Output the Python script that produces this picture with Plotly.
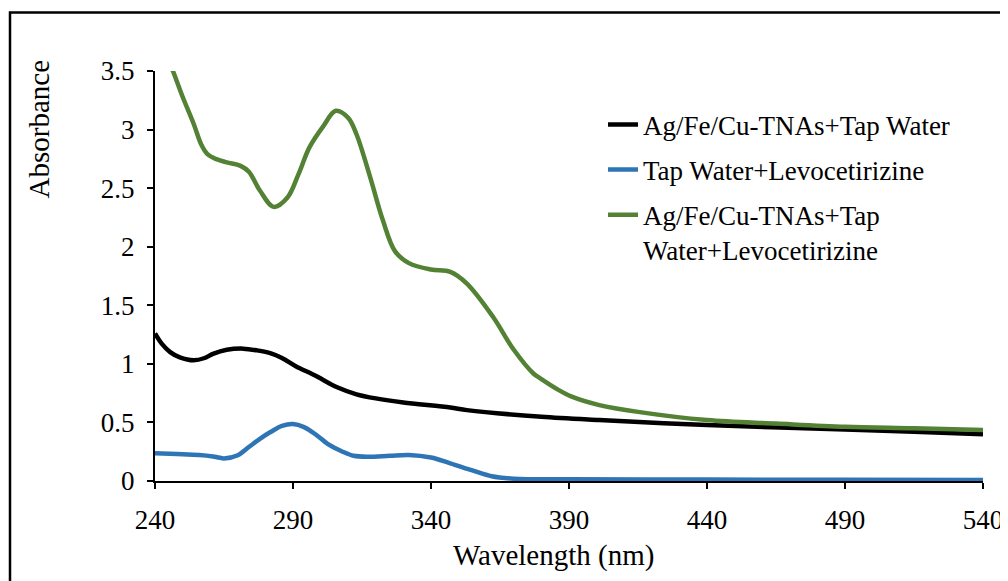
import plotly.graph_objects as go

# ---- data ----
green_x = [240, 243, 246.5, 250, 254, 256.8, 259, 262, 266, 271, 274, 278, 283, 288, 292, 296, 301,
           305.5, 310, 313, 318, 322.5, 327, 332, 340, 347, 353, 362.5, 370, 377, 380, 386, 391, 401,
           415, 440, 465, 490, 515, 540]
green_y = [3.85, 3.70, 3.50, 3.28, 3.05, 2.87, 2.79, 2.75, 2.72, 2.69, 2.64, 2.48, 2.34, 2.42, 2.62,
           2.85, 3.03, 3.16, 3.10, 2.96, 2.59, 2.23, 1.96, 1.86, 1.805, 1.785, 1.685, 1.40, 1.12, 0.92,
           0.87, 0.78, 0.72, 0.648, 0.59, 0.52, 0.49, 0.463, 0.45, 0.435]

black_x = [240, 242.5, 245.5, 249, 254, 258, 261, 266, 272, 277, 282, 286, 291, 298, 306, 313, 320, 330,
           347, 353, 380, 401, 440, 490, 515, 540]
black_y = [1.26, 1.17, 1.10, 1.055, 1.03, 1.05, 1.085, 1.12, 1.13, 1.115, 1.09, 1.05, 0.98, 0.90, 0.80,
           0.74, 0.705, 0.67, 0.628, 0.605, 0.548, 0.52, 0.477, 0.44, 0.42, 0.40]

blue_x = [240, 248, 256, 261, 265, 270, 274, 278, 282, 286, 290, 294, 298.5, 303, 308, 312, 317, 325,
          332, 340, 347, 355, 362, 370, 390, 440, 490, 540]
blue_y = [0.236, 0.23, 0.222, 0.21, 0.193, 0.22, 0.29, 0.36, 0.42, 0.47, 0.486, 0.46, 0.392, 0.31,
          0.25, 0.215, 0.207, 0.215, 0.222, 0.20, 0.151, 0.09, 0.04, 0.02, 0.015, 0.012, 0.01, 0.008]

names = ["Ag/Fe/Cu-TNAs+Tap Water", "Tap Water+Levocetirizine",
         "Ag/Fe/Cu-TNAs+Tap<br>Water+Levocetirizine"]
x_ticks = [240, 290, 340, 390, 440, 490, 540]
y_ticks = [0, 0.5, 1, 1.5, 2, 2.5, 3, 3.5]
y_labels = ["0", "0.5", "1", "1.5", "2", "2.5", "3", "3.5"]

FONT = "Liberation Serif, Times New Roman, serif"

# page has an 8px body margin: figure drawn at (8,8) on screen
OFF = 8
L, T, PW, PH = 155 - OFF, 70.5 - OFF, 828, 410.5
W, H = 1008 - OFF, 581 - OFF


def px_x(sx):
    return (sx - OFF - L) / PW


def px_y(sy):
    return (T + PH - (sy - OFF)) / PH


fig = go.Figure()
fig.add_trace(go.Scatter(x=black_x, y=black_y, mode="lines", name=names[0],
                         line=dict(color="#000000", width=4.5, shape="spline", smoothing=0.9),
                         legendgroup="a"))
fig.add_trace(go.Scatter(x=blue_x, y=blue_y, mode="lines", name=names[1],
                         line=dict(color="#2E75B6", width=4.5, shape="spline", smoothing=0.9),
                         legendgroup="b"))
fig.add_trace(go.Scatter(x=green_x, y=green_y, mode="lines", name=names[2],
                         line=dict(color="#548235", width=4.5, shape="spline", smoothing=1.0),
                         legendgroup="c"))

fig.update_layout(
    width=W, height=H,
    margin=dict(l=L, r=W - L - PW, t=T, b=H - T - PH, pad=0, autoexpand=False),
    paper_bgcolor="white", plot_bgcolor="white",
    font=dict(family=FONT, size=27, color="black"),
    showlegend=True,
    legend=dict(x=px_x(603), y=px_y(100), xanchor="left", yanchor="top",
                traceorder="grouped", tracegroupgap=7, valign="top",
                font=dict(family=FONT, size=27, color="black"),
                bgcolor="rgba(0,0,0,0)"),
    xaxis=dict(range=[240, 540], tickvals=x_ticks, ticktext=[str(v) for v in x_ticks],
               automargin=False,
               showgrid=False, zeroline=False, showline=True, linecolor="black", linewidth=2,
               ticks="outside", ticklen=6, tickwidth=2, tickcolor="black",
               ticklabelstandoff=8, tickfont=dict(family=FONT, size=27)),
    yaxis=dict(range=[0, 3.5], tickvals=y_ticks, ticktext=y_labels,
               automargin=False,
               showgrid=False, zeroline=False, showline=True, linecolor="black", linewidth=2,
               ticks="outside", ticklen=6, tickwidth=2, tickcolor="black",
               ticklabelstandoff=7, tickfont=dict(family=FONT, size=27)),
    annotations=[
        dict(text="Wavelength (nm)", xref="paper", yref="paper",
             x=px_x(553), y=px_y(556), xanchor="center", yanchor="middle",
             showarrow=False, font=dict(family=FONT, size=29)),
        dict(text="Absorbance", xref="paper", yref="paper", textangle=-90,
             x=px_x(39), y=px_y(128), xanchor="center", yanchor="middle",
             showarrow=False, font=dict(family=FONT, size=29)),
    ],
    shapes=[
        dict(type="rect", xref="paper", yref="paper",
             x0=px_x(10), x1=1.3, y0=px_y(12), y1=-0.5,
             line=dict(color="black", width=2.5), fillcolor="rgba(0,0,0,0)", layer="below"),
    ],
)

fig.write_html("out.html")
